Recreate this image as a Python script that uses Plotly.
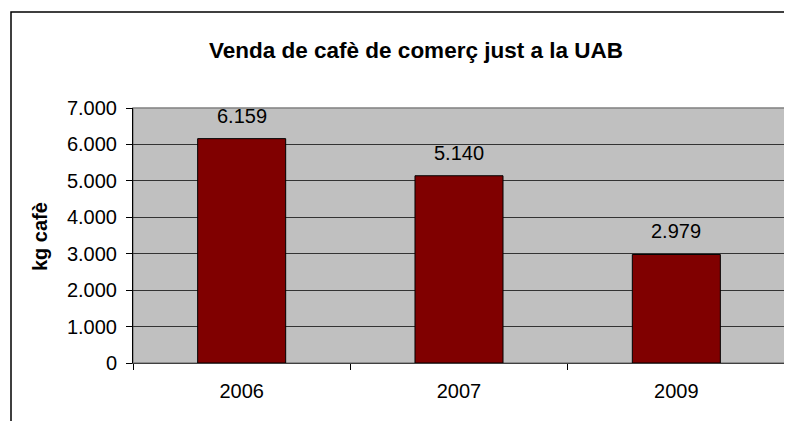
import plotly.graph_objects as go

years = ["2006", "2007", "2009"]
kg_cafe = [6159, 5140, 2979]
y_ticks = [0, 1000, 2000, 3000, 4000, 5000, 6000, 7000]

def fmt(v):
    return f"{v:,}".replace(",", ".")

FONT = "Liberation Sans, Arial, sans-serif"

W, H = 784, 413
L, R, T, B = 125, 7, 100, 58
pw, ph = W - L - R, H - T - B

fig = go.Figure()
fig.add_trace(go.Bar(
    x=years, y=kg_cafe,
    marker=dict(color="#800000", line=dict(color="black", width=1)),
    hoverinfo="x+y",
))

annotations = []
for i, v in enumerate(kg_cafe):
    annotations.append(dict(
        x=i, y=v, xref="x", yref="y", text=fmt(v), showarrow=False,
        yanchor="bottom", yshift=10, font=dict(size=20, color="black", family=FONT)))
annotations.append(dict(
    x=(32 - L) / pw, y=0.494, xref="paper", yref="paper", text="<b>kg cafè</b>",
    textangle=-90, showarrow=False, xanchor="center", yanchor="middle",
    font=dict(size=20, color="black", family=FONT)))

fig.update_layout(
    width=W, height=H,
    margin=dict(l=L, r=R, t=T, b=B, autoexpand=False),
    paper_bgcolor="white", plot_bgcolor="#C0C0C0",
    font=dict(family=FONT, color="black"),
    showlegend=False,
    bargap=0.595,
    title=dict(text="<b>Venda de cafè de comerç just a la UAB</b>",
               x=408 / W, xref="container", xanchor="center",
               y=1 - 42 / H, yref="container", yanchor="middle",
               font=dict(size=22.5, color="black", family=FONT)),
    annotations=annotations,
    shapes=[
        dict(type="rect", xref="paper", yref="paper", x0=0, x1=1, y0=0, y1=1,
             line=dict(color="#808080", width=1.5), layer="below"),
        dict(type="rect", xref="paper", yref="paper", x0=(3 - L) / pw, x1=1.2,
             y0=-0.5, y1=1 + (T - 4) / ph,
             line=dict(color="black", width=1.5), layer="above"),
    ],
)

fig.update_xaxes(
    type="category", range=[-0.5, 2.5], showline=True, linecolor="#404040", linewidth=1,
    ticks="outside", tickson="boundaries", ticklen=6, tickcolor="black",
    tickfont=dict(size=20, family=FONT, color="black"), tickangle=0,
    ticklabelstandoff=10, showgrid=False, automargin=False,
)
fig.update_yaxes(
    range=[0, 7000], tickvals=y_ticks, ticktext=[fmt(t) for t in y_ticks],
    showline=True, linecolor="black", linewidth=1,
    ticks="outside", ticklen=6, tickcolor="black",
    tickfont=dict(size=20, family=FONT, color="black"),
    ticklabelstandoff=5, automargin=False,
    showgrid=True, gridcolor="#333333", gridwidth=1, zeroline=False,
)

fig.write_html("out.html")
